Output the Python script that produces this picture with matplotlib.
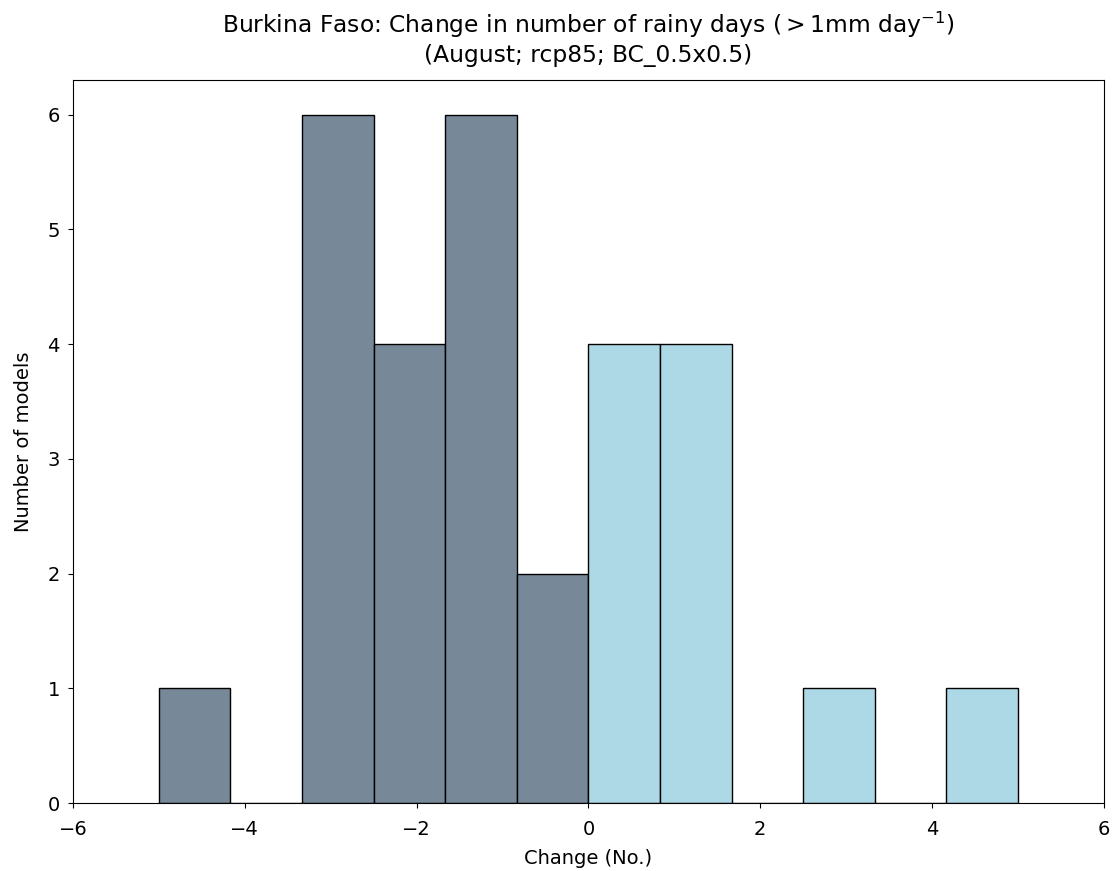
import matplotlib.pyplot as plt
import numpy as np

# histogram counts, 12 bins from -5 to 5
bin_edges = np.linspace(-5, 5, 13)
counts = [1, 0, 6, 4, 6, 2, 4, 4, 0, 1, 0, 1]

plt.rcParams['font.size'] = 14

fig = plt.figure(figsize=(11.14, 8.71), dpi=100)
ax = fig.add_axes([0.0655, 0.078, 0.9255, 0.83])

widths = np.diff(bin_edges)
left = bin_edges[:-1]
colors = ['lightslategray' if l < 0 else 'lightblue' for l in left]
ax.bar(left, counts, width=widths, align='edge', color=colors, edgecolor='black')

ax.set_xlim(-6, 6)
ax.tick_params(axis='x', pad=9)
ax.tick_params(axis='y', pad=6)
ax.set_xlabel('Change (No.)', labelpad=7)
ax.set_ylabel('Number of models', labelpad=10)
ax.set_title('Burkina Faso: Change in number of rainy days ($>1$mm day$^{-1}$)\n(August; rcp85; BC_0.5x0.5)', pad=13)

fig.savefig('out.png', dpi=100)
